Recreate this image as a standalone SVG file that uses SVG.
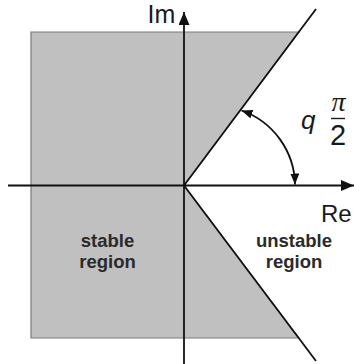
<svg xmlns="http://www.w3.org/2000/svg" width="354" height="364" viewBox="0 0 354 364">
<style>
.lbl{font-family:"Liberation Sans",Arial,sans-serif;fill:#1a1a1a}
.reg{font-family:"Liberation Sans",Arial,sans-serif;font-weight:bold;font-size:18.5px;fill:#2a2a2a;text-anchor:middle}
.ax{stroke:#111;stroke-width:1.8;fill:none}
</style>
<defs>
<marker id="axhead" markerUnits="userSpaceOnUse" markerWidth="14" markerHeight="11" refX="13" refY="5.5" orient="auto"><path d="M0,0 L13,5.5 L0,11 z" fill="#111"/></marker>
<marker id="archead" markerUnits="userSpaceOnUse" markerWidth="12" markerHeight="9" refX="11" refY="4.5" orient="auto-start-reverse"><path d="M0,0 L11,4.5 L0,9 z" fill="#111"/></marker>
</defs>
<rect width="354" height="364" fill="#fff"/>
<g id="stable-area">
<polygon points="31,32 298.75,32 184,185.5 298.75,338 31,338" fill="#c0c0c0" stroke="#7a7a7a" stroke-width="1.2"/>
</g>
<g id="connectors">
<line class="ax" x1="8" y1="185.5" x2="354" y2="185.5" marker-end="url(#axhead)"/>
<line class="ax" x1="184" y1="364" x2="184" y2="12" marker-end="url(#axhead)"/>
<line class="ax" x1="316" y1="9" x2="184" y2="185.5"/>
<line class="ax" x1="184" y1="185.5" x2="316" y2="361"/>
<path class="ax" stroke-width="1.5" d="M241.5,110.5 A80,80 0 0 1 295,184.5" marker-start="url(#archead)" marker-end="url(#archead)"/>
</g>
<g id="axis-labels">
<text class="lbl" x="147.5" y="23" font-size="25">Im</text>
<text class="lbl" x="321" y="221.5" font-size="24">Re</text>
</g>
<g id="angle-label">
<text class="lbl" x="301" y="129" font-size="26" font-style="italic">q</text>
<text x="338.5" y="111" font-family="'Liberation Serif','Times New Roman',serif" font-style="italic" font-size="28" fill="#1a1a1a" text-anchor="middle">π</text>
<line x1="331" y1="118.5" x2="345" y2="118.5" stroke="#1a1a1a" stroke-width="1.4"/>
<text class="lbl" x="338" y="145" font-size="29" text-anchor="middle">2</text>
</g>
<g id="stable-label">
<text class="reg" x="107.5" y="247">stable</text>
<text class="reg" x="107.5" y="268">region</text>
</g>
<g id="unstable-label">
<text class="reg" x="294" y="247">unstable</text>
<text class="reg" x="294" y="268">region</text>
</g>
</svg>
